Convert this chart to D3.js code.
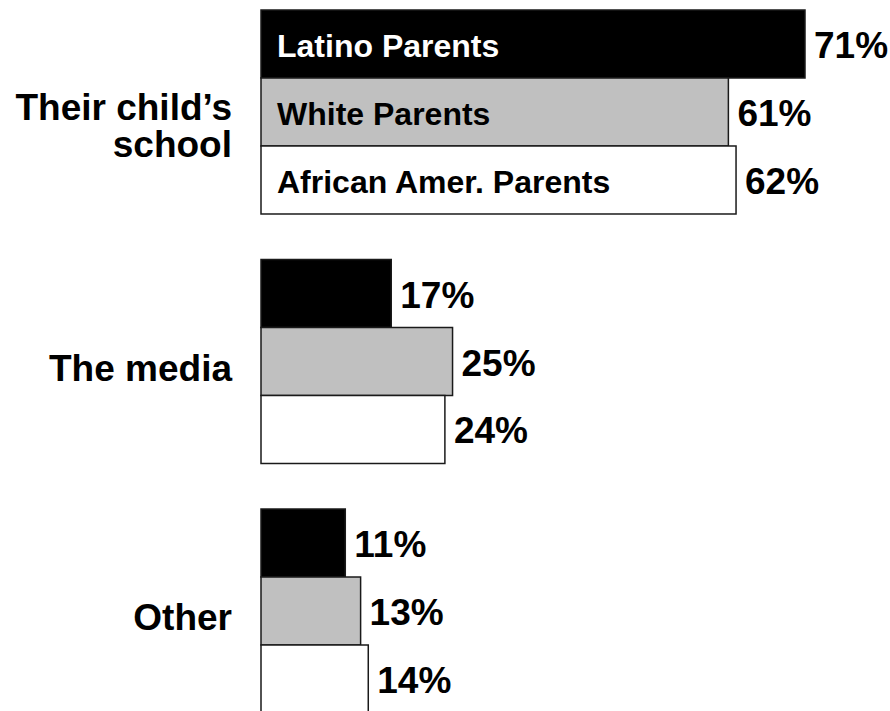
<!DOCTYPE html>
<html>
<head>
<meta charset="utf-8">
<script src="https://cdn.jsdelivr.net/npm/d3@7"></script>
<style>
  html, body { margin: 0; padding: 0; background: #fff; }
  svg { display: block; font-family: "Liberation Sans", Arial, sans-serif; font-weight: bold; }
</style>
</head>
<body>
<svg id="chart" width="890" height="711"></svg>
<script>
const categories = ["Their child\u2019s school", "The media", "Other"];
const categoryLines = [["Their child\u2019s", "school"], ["The media"], ["Other"]];
const series = ["Latino Parents", "White Parents", "African Amer. Parents"];
const latino = [71, 17, 11];
const white = [61, 25, 13];
const african = [62, 24, 14];
const seriesValues = [latino, white, african];

const fills = ["#000000", "#c0c0c0", "#ffffff"];
const labelColors = ["#ffffff", "#000000", "#000000"];

const svg = d3.select("#chart");

const x = d3.scaleLinear().domain([0, 71]).range([261, 805]);
const y = d3.scaleBand().domain(categories).range([10, 713]).paddingInner(0.1824).paddingOuter(0);
const yInner = d3.scaleBand().domain(series).range([0, y.bandwidth()]).padding(0);

const data = [];
categories.forEach((c, ci) => {
  series.forEach((s, si) => {
    data.push({ cat: c, ci, series: s, si, value: seriesValues[si][ci] });
  });
});

// bars
svg.selectAll("rect.bar")
  .data(data)
  .join("rect")
  .attr("class", "bar")
  .attr("x", x(0))
  .attr("y", d => y(d.cat) + yInner(d.series))
  .attr("width", d => x(d.value) - x(0))
  .attr("height", yInner.bandwidth())
  .attr("fill", d => fills[d.si])
  .attr("stroke", "#1a1a1a")
  .attr("stroke-width", 1.5);

// value labels
svg.selectAll("text.val")
  .data(data)
  .join("text")
  .attr("class", "val")
  .attr("x", d => x(d.value) + 9)
  .attr("y", d => y(d.cat) + yInner(d.series) + yInner.bandwidth() / 2 + 14)
  .attr("font-size", 37)
  .attr("fill", "#000")
  .text(d => d.value + "%");

// series labels inside first group bars
svg.selectAll("text.series")
  .data(series)
  .join("text")
  .attr("class", "series")
  .attr("x", x(0) + 16)
  .attr("y", s => y(categories[0]) + yInner(s) + yInner.bandwidth() / 2 + 13)
  .attr("font-size", 32)
  .attr("fill", (s, i) => labelColors[i])
  .text(s => s);

// category labels
categories.forEach((c, ci) => {
  const lines = categoryLines[ci];
  const center = y(c) + y.bandwidth() / 2;
  const lineH = 37;
  const start = lines.length === 1 ? center + 19 : center + 8;
  const t = svg.append("text")
    .attr("class", "cat")
    .attr("text-anchor", "end")
    .attr("font-size", 37)
    .attr("fill", "#000");
  lines.forEach((ln, li) => {
    t.append("tspan")
      .attr("x", 232)
      .attr("y", start + li * lineH)
      .text(ln);
  });
});
</script>
</body>
</html>
